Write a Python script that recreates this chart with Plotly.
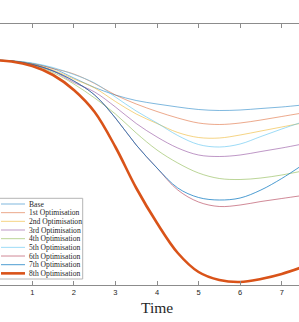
import plotly.graph_objects as go

# Time samples
time = [0, 0.5, 1, 1.5, 2, 2.5, 3, 3.5, 4, 4.5, 5, 5.5, 6, 6.5, 7, 7.5]

# Series values (arbitrary units)
base = [224.8, 224.2, 221.5, 216.5, 207, 197.5, 190, 184.5, 181, 178, 175.5, 174.5, 175, 176.5, 178, 180]
opt1 = [224.8, 224.2, 221.5, 216.5, 211, 201.5, 190, 181, 173.5, 167, 162, 160.5, 162, 165, 168.5, 172]
opt2 = [224.8, 224.1, 221, 215, 206, 197, 183.5, 171, 161.5, 152.5, 147.5, 147, 150, 154, 158, 162]
opt3 = [224.8, 224, 220.5, 214, 202.5, 193, 178, 161.5, 148, 137, 130, 128.5, 130, 133.5, 137, 141]
opt4 = [224.8, 224, 220, 212.5, 201, 187, 171, 152, 135, 122, 112, 106.5, 105.5, 107, 110, 114]
opt5 = [224.8, 224.3, 222, 217.5, 210.5, 202, 188, 174, 162, 149.5, 140.5, 138, 141, 148.5, 156, 163]
opt6 = [224.8, 224, 220.5, 214, 204, 190, 167, 140, 117, 95, 83, 78.5, 80, 83.5, 86.5, 89.5]
opt7 = [224.8, 224, 220.5, 214, 204, 190, 167, 140, 117, 97, 87.5, 85, 87, 95, 106.5, 120]
opt8 = [224.8, 223.5, 219, 210, 195, 173, 138, 97, 62, 32, 13, 5, 3, 6, 11, 18]

names = ["Base", "1st Optimisation", "2nd Optimisation", "3rd Optimisation",
         "4th Optimisation", "5th Optimisation", "6th Optimisation",
         "7th Optimisation", "8th Optimisation"]
series = [base, opt1, opt2, opt3, opt4, opt5, opt6, opt7, opt8]
colors = ["rgba(0,114,189,0.5)", "rgba(217,83,25,0.5)", "rgba(237,177,32,0.55)",
          "rgba(126,47,142,0.5)", "rgba(119,172,48,0.5)", "rgba(77,190,238,0.55)",
          "rgba(162,20,47,0.5)", "rgba(0,114,189,0.7)", "rgb(217,83,25)"]
widths = [1, 1, 1, 1, 1, 1, 1, 1, 2.6]
xticks = [1, 2, 3, 4, 5, 6, 7]

W, H = 299, 322
T, B = 24, 37

fig = go.Figure()
for nm, ys, c, w in zip(names, series, colors, widths):
    fig.add_trace(go.Scatter(x=time, y=ys, mode="lines", name=nm,
                             line=dict(color=c, width=w, shape="spline", smoothing=1.0),
                             showlegend=False))

# custom legend (compact, like the original)
shapes = [dict(type="rect", xref="paper", yref="y", x0=-0.02, x1=82.7 / W,
               y0=6, y1=86.7, line=dict(color="#b4b4b4", width=1), fillcolor="white",
               layer="above")]
annotations = []
for i, (nm, c, w) in enumerate(zip(names, colors, widths)):
    yc = 81 - 8.67 * i
    shapes.append(dict(type="line", xref="paper", yref="y", x0=1 / W, x1=25 / W,
                       y0=yc, y1=yc, line=dict(color=c, width=w), layer="above"))
    annotations.append(dict(text=nm, xref="paper", yref="y", x=26.7 / W, y=yc,
                            xanchor="left", yanchor="middle", showarrow=False,
                            font=dict(family="Liberation Serif", size=7.6, color="#262626")))

annotations.append(dict(text="Time", xref="x", yref="paper", x=4, y=(285 - 297) / 261.0,
                        xanchor="center", yanchor="top", showarrow=False,
                        font=dict(family="Liberation Serif", size=15.5, color="#262626")))

fig.update_layout(
    width=W, height=H,
    margin=dict(l=0, r=0, t=T, b=B, pad=0),
    paper_bgcolor="white", plot_bgcolor="white",
    shapes=shapes, annotations=annotations,
    showlegend=False,
    xaxis=dict(range=[0.223, 7.416], tickvals=xticks, ticktext=[str(v) for v in xticks],
               showgrid=False, zeroline=False, showline=True, linecolor="#8c8c8c",
               linewidth=1, mirror="ticks", ticks="inside", ticklen=4, tickcolor="#8c8c8c",
               tickfont=dict(family="Liberation Sans", size=7.5, color="#262626")),
    yaxis=dict(range=[0, 261], visible=False, showgrid=False, zeroline=False),
)

fig.write_html("out.html", config={"displayModeBar": False},
               post_script="document.body.style.margin='0';document.body.style.padding='0';")
